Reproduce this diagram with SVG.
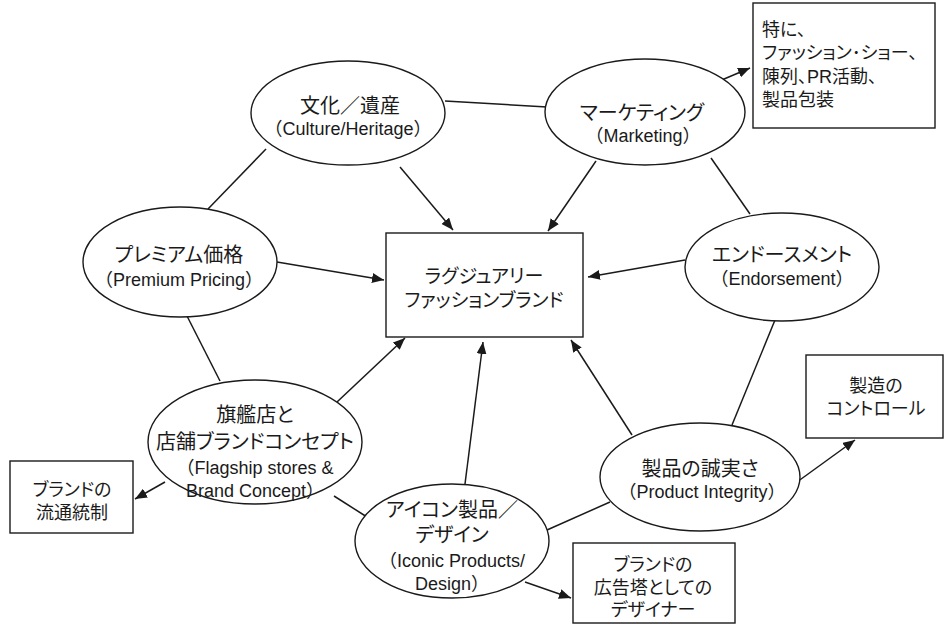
<svg xmlns="http://www.w3.org/2000/svg" width="945" height="624" viewBox="0 0 945 624">
<style>
.bg{fill:#fff}
.node ellipse,.node rect{fill:#fff;stroke:#1a1a1a;stroke-width:1.4}
text{font-family:"Liberation Sans","Noto Sans CJK JP",sans-serif;fill:#1a1a1a;font-size:18px;text-anchor:middle}
text.j{font-size:20px;font-feature-settings:"palt"}
.bx text{font-size:18px;font-feature-settings:"palt"}
#brand text{font-size:19px}
.tl{text-anchor:start}
#connectors line{stroke:#1a1a1a;stroke-width:1.5;fill:none}
</style>
<defs>
<marker id="ah" viewBox="0 0 12 10" refX="12" refY="5" markerWidth="12" markerHeight="10" markerUnits="userSpaceOnUse" orient="auto">
<path d="M0,0 L12,5 L0,10 z" fill="#1a1a1a"/>
</marker>
</defs>
<rect class="bg" x="0" y="0" width="945" height="624"/>
<g id="connectors">
<line x1="445" y1="101" x2="547" y2="107"/>
<line x1="266" y1="149" x2="208" y2="209"/>
<line x1="400" y1="167" x2="453" y2="230" marker-end="url(#ah)"/>
<line x1="596" y1="161" x2="548" y2="231" marker-end="url(#ah)"/>
<line x1="717" y1="82" x2="750" y2="68" marker-end="url(#ah)"/>
<line x1="711" y1="158" x2="750" y2="214"/>
<line x1="685" y1="260" x2="588" y2="277" marker-end="url(#ah)"/>
<line x1="277" y1="262" x2="384" y2="280" marker-end="url(#ah)"/>
<line x1="187" y1="316" x2="220" y2="381"/>
<line x1="337" y1="402" x2="405" y2="338" marker-end="url(#ah)"/>
<line x1="165" y1="482" x2="135" y2="499" marker-end="url(#ah)"/>
<line x1="334" y1="496" x2="367" y2="517"/>
<line x1="465" y1="484" x2="483" y2="342" marker-end="url(#ah)"/>
<line x1="547" y1="530" x2="610" y2="502"/>
<line x1="525" y1="582" x2="571" y2="598" marker-end="url(#ah)"/>
<line x1="632" y1="435" x2="571" y2="340" marker-end="url(#ah)"/>
<line x1="732" y1="425" x2="775" y2="320"/>
<line x1="797" y1="482" x2="855" y2="440" marker-end="url(#ah)"/>
</g>
<g id="culture" class="node">
<ellipse cx="348" cy="113" rx="97" ry="52"/>
<text class="j" x="350" y="113">文化／遺産</text>
<text x="348" y="135">（Culture/Heritage）</text>
</g>
<g id="marketing" class="node">
<ellipse cx="645" cy="112" rx="100" ry="53"/>
<text class="j" x="642" y="120">マーケティング</text>
<text x="643" y="142">（Marketing）</text>
</g>
<g id="premium" class="node">
<ellipse cx="180" cy="262" rx="97" ry="55"/>
<text class="j" x="179" y="262">プレミアム価格</text>
<text x="179" y="286">（Premium Pricing）</text>
</g>
<g id="brand" class="node bx">
<rect x="386" y="233" width="197" height="104"/>
<text x="484" y="283">ラグジュアリー</text>
<text x="484" y="307">ファッションブランド</text>
</g>
<g id="endorsement" class="node">
<ellipse cx="782" cy="267" rx="97" ry="54"/>
<text class="j" x="782" y="262">エンドースメント</text>
<text x="782" y="285">（Endorsement）</text>
</g>
<g id="flagship" class="node">
<ellipse cx="255" cy="442" rx="107" ry="62"/>
<text class="j" x="255" y="422">旗艦店と</text>
<text class="j" x="255" y="449">店舗ブランドコンセプト</text>
<text x="255" y="474">（Flagship stores &amp;</text>
<text x="255" y="497">Brand Concept）</text>
</g>
<g id="iconic" class="node">
<ellipse cx="452" cy="541" rx="97" ry="57"/>
<text class="j" x="452" y="517">アイコン製品／</text>
<text class="j" x="452" y="542">デザイン</text>
<text x="452" y="567">（Iconic Products/</text>
<text x="452" y="590">Design）</text>
</g>
<g id="integrity" class="node">
<ellipse cx="700" cy="477" rx="100" ry="54"/>
<text class="j" x="700" y="476">製品の誠実さ</text>
<text x="702" y="498">（Product Integrity）</text>
</g>
<g id="marketing-notes" class="node bx">
<rect x="753" y="3" width="182" height="125"/>
<text class="tl" x="762" y="36">特に、</text>
<text class="tl" x="762" y="59">ファッション･ショー、</text>
<text class="tl" x="762" y="83">陳列、PR活動、</text>
<text class="tl" x="762" y="106">製品包装</text>
</g>
<g id="distribution" class="node bx">
<rect x="10" y="461" width="123" height="72"/>
<text x="72" y="496">ブランドの</text>
<text x="72" y="519">流通統制</text>
</g>
<g id="manufacturing" class="node bx">
<rect x="806" y="355" width="137" height="83"/>
<text x="876" y="392">製造の</text>
<text x="876" y="415">コントロール</text>
</g>
<g id="designer" class="node bx">
<rect x="573" y="543" width="162" height="80"/>
<text x="653" y="571">ブランドの</text>
<text x="653" y="594">広告塔としての</text>
<text x="653" y="616">デザイナー</text>
</g>
</svg>
